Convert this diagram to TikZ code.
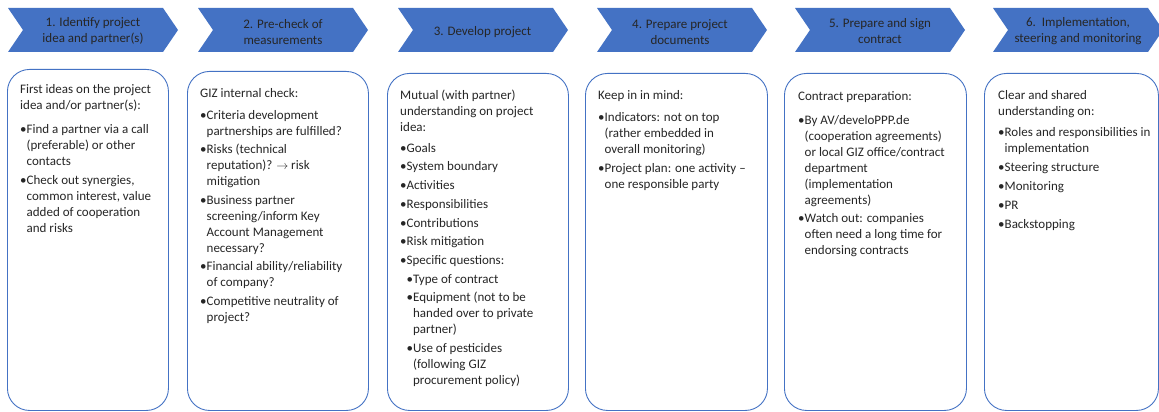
\documentclass[tikz,border=0pt]{standalone}
\usepackage{fontspec}
\setmainfont{Carlito}
\definecolor{giz}{RGB}{68,114,196}
\definecolor{txt}{RGB}{38,38,38}
\newcommand\bu{\textbullet}
\newcommand\ind{\phantom{\textbullet}}
\begin{document}
\begin{tikzpicture}[x=1pt,y=-1pt,
  chev/.style={fill=giz, draw=none},
  chevlabel/.style={align=center, text=txt, inner sep=0pt, font=\fontsize{13}{16.5}\selectfont},
  card/.style={draw=giz, line width=0.9pt, rounded corners=22pt, fill=white, anchor=north west, inner sep=0pt, minimum height=#1},
  cardtext/.style={align=left, anchor=north west, inner sep=0pt, text=txt, font=\fontsize{13}{16}\selectfont}]
\useasboundingbox (0,0) rectangle (1159,412);
\fill[white] (0,0) rectangle (1159,412);
% chevrons
\foreach \x in {8,198,398,597,795,993}{
  \fill[chev] (\x,8) -- (\x+155,8) -- (\x+170,30) -- (\x+155,52) -- (\x,52) -- (\x+15,30) -- cycle;
}
\node[chevlabel] (c1) at (93,31) {1. Identify project\\idea and partner(s)};
\node[chevlabel] (c2) at (283,32) {2. Pre-check of\\measurements};
\node[chevlabel] (c3) at (482.5,32) {3. Develop project};
\node[chevlabel] (c4) at (680,32) {4. Prepare project\\documents};
\node[chevlabel] (c5) at (880,31) {5. Prepare and sign\\contract};
\node[chevlabel] (c6) at (1078,31) {6.\ \ Implementation,\\steering and monitoring};
% cards
\node[card=341pt, minimum width=161pt] (b1) at (7,69) {};
\node[card=339pt, minimum width=181pt] (b2) at (187,71) {};
\node[card=337pt, minimum width=181pt] (b3) at (387,73) {};
\node[card=337pt, minimum width=182pt] (b4) at (585,73) {};
\node[card=337pt, minimum width=182pt] (b5) at (784,73) {};
\node[card=337pt, minimum width=174pt] (b6) at (984,73) {};
% texts
\node[cardtext] (t1) at (20,81.8) {\strut First ideas on the project\\
idea and/or partner(s):\\[8pt]
\bu Find a partner via a call\\
\ind(preferable) or other\\
\ind contacts\\[3pt]
\bu Check out synergies,\\
\ind common interest, value\\
\ind added of cooperation\\
\ind and risks};
\node[cardtext] (t2) at (200,85.8) {\strut GIZ internal check:\\[6pt]
\bu Criteria development\\
\ind partnerships are fulfilled?\\[2.5pt]
\bu Risks (technical\\
\ind reputation)? $\rightarrow$ risk\\
\ind mitigation\\[2.5pt]
\bu Business partner\\
\ind screening/inform Key\\
\ind Account Management\\
\ind necessary?\\[2.5pt]
\bu Financial ability/reliability\\
\ind of company?\\[2.5pt]
\bu Competitive neutrality of\\
\ind project?};
\node[cardtext] (t3) at (400,87.8) {\strut Mutual (with partner)\\
understanding on project\\
idea:\\[5pt]
\bu Goals\\[2.7pt]
\bu System boundary\\[2.7pt]
\bu Activities\\[2.7pt]
\bu Responsibilities\\[2.7pt]
\bu Contributions\\[2.7pt]
\bu Risk mitigation\\[2.7pt]
\bu Specific questions:\\[2.7pt]
\ind\bu Type of contract\\[2.7pt]
\ind\bu Equipment (not to be\\
\ind\ind handed over to private\\
\ind\ind partner)\\[2.7pt]
\ind\bu Use of pesticides\\
\ind\ind(following GIZ\\
\ind\ind procurement policy)};
\node[cardtext] (t4) at (598,87.8) {\strut Keep in in mind:\\[6pt]
\bu Indicators: not on top\\
\ind(rather embedded in\\
\ind overall monitoring)\\[3pt]
\bu Project plan: one activity --\\
\ind one responsible party};
\node[cardtext] (t5) at (798,88.8) {\strut Contract preparation:\\[8pt]
\bu By AV/develoPPP.de\\
\ind(cooperation agreements)\\
\ind or local GIZ office/contract\\
\ind department\\
\ind(implementation\\
\ind agreements)\\[2pt]
\bu Watch out: companies\\
\ind often need a long time for\\
\ind endorsing contracts};
\node[cardtext] (t6) at (998,87.8) {\strut Clear and shared\\
understanding on:\\[5pt]
\bu Roles and responsibilities in\\
\ind implementation\\[3pt]
\bu Steering structure\\[3pt]
\bu Monitoring\\[3pt]
\bu PR\\[3pt]
\bu Backstopping};
\end{tikzpicture}
\end{document}
